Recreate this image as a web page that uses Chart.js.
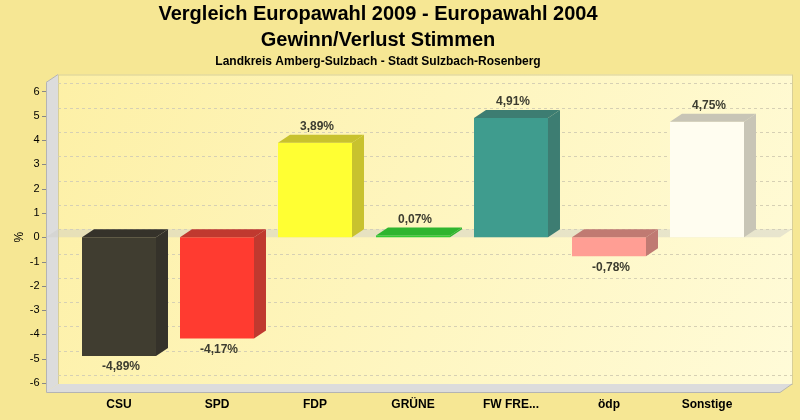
<!DOCTYPE html>
<html>
<head>
<meta charset="utf-8">
<script src="https://cdn.jsdelivr.net/npm/chart.js@4.4.1/dist/chart.umd.min.js"></script>
<style>
  html, body { margin: 0; padding: 0; background: #f6e794; }
  #wrap { width: 800px; height: 420px; }
</style>
</head>
<body>
<div id="wrap"><canvas id="chart" width="800" height="420"></canvas></div>
<script>
const parties = ["CSU", "SPD", "FDP", "GRÜNE", "FW FRE...", "ödp", "Sonstige"];
const changes = [-4.89, -4.17, 3.89, 0.07, 4.91, -0.78, 4.75];
const frontColors = ["#403d30", "#ff3b30", "#ffff33", "#33cc33", "#3f9c8e", "#ff9e94", "#fffdf0"];
const sideColors = ["#35322a", "#c0392f", "#c8c22e", "#2fb52f", "#3d7d72", "#c07a72", "#c8c5b6"];
const yTicks = [-6, -5, -4, -3, -2, -1, 0, 1, 2, 3, 4, 5, 6];

const DX = 12;   // depth offset x
const DY = -8;   // depth offset y
const SIDE = 24; // extra floor width outside category band

function fmt(v) {
  return v.toFixed(2).replace(".", ",") + "%";
}

/* =========================
   3D WALLS + GRID
========================= */

const walls = {
  id: "walls",
  beforeDatasetsDraw(chart) {
    const ctx = chart.ctx;
    const y = chart.scales.y;
    const a = chart.chartArea;
    const L = a.left - SIDE, R = a.right + SIDE, T = a.top, B = a.bottom;
    ctx.save();

    // back wall
    const g = ctx.createLinearGradient(L + DX, T + DY, R + DX, B + DY);
    g.addColorStop(0, "#fdf0a6");
    g.addColorStop(1, "#fffbd8");
    ctx.fillStyle = g;
    ctx.fillRect(L + DX, T + DY, R - L, B - T);
    ctx.strokeStyle = "#d8cf98";
    ctx.lineWidth = 1;
    ctx.strokeRect(L + DX + 0.5, T + DY + 0.5, R - L, B - T);

    // dashed grid on back wall
    ctx.setLineDash([3, 3]);
    ctx.strokeStyle = "#d6d0b4";
    yTicks.forEach((v) => {
      const py = Math.round(y.getPixelForValue(v) + DY) + 0.5;
      ctx.beginPath();
      ctx.moveTo(L + DX, py);
      ctx.lineTo(R + DX, py);
      ctx.stroke();
    });
    ctx.setLineDash([]);

    // left wall
    ctx.fillStyle = "#dcdcdc";
    ctx.beginPath();
    ctx.moveTo(L, T);
    ctx.lineTo(L + DX, T + DY);
    ctx.lineTo(L + DX, B + DY);
    ctx.lineTo(L, B);
    ctx.closePath();
    ctx.fill();

    // floor
    ctx.beginPath();
    ctx.moveTo(L, B);
    ctx.lineTo(L + DX, B + DY);
    ctx.lineTo(R + DX, B + DY);
    ctx.lineTo(R, B);
    ctx.closePath();
    ctx.fill();

    ctx.strokeStyle = "#b4b4b4";
    ctx.beginPath();
    ctx.moveTo(L + 0.5, T);
    ctx.lineTo(L + 0.5, B + 0.5);
    ctx.lineTo(R, B + 0.5);
    ctx.lineTo(R + DX, B + DY);
    ctx.stroke();
    ctx.beginPath();
    ctx.moveTo(L, T);
    ctx.lineTo(L + DX, T + DY);
    ctx.stroke();

    // zero plane
    const z = y.getPixelForValue(0);
    ctx.fillStyle = "rgba(205, 205, 200, 0.45)";
    ctx.beginPath();
    ctx.moveTo(L, z);
    ctx.lineTo(L + DX, z + DY);
    ctx.lineTo(R + DX, z + DY);
    ctx.lineTo(R, z);
    ctx.closePath();
    ctx.fill();

    // tick marks on front axis
    ctx.strokeStyle = "#888888";
    yTicks.forEach((v) => {
      const py = Math.round(y.getPixelForValue(v)) + 0.5;
      ctx.beginPath();
      ctx.moveTo(L - 4, py);
      ctx.lineTo(L, py);
      ctx.stroke();
    });
    ctx.restore();
  },

  /* =========================
     BAR DEPTH + LABELS
  ========================= */

  afterDatasetsDraw(chart) {
    const ctx = chart.ctx;
    const meta = chart.getDatasetMeta(0);
    ctx.save();
    meta.data.forEach((bar, i) => {
      const p = bar.getProps(["x", "y", "base", "width"], true);
      const x0 = p.x - p.width / 2, x1 = p.x + p.width / 2;
      const top = Math.min(p.y, p.base), bot = Math.max(p.y, p.base);
      ctx.fillStyle = sideColors[i];
      // top face
      ctx.beginPath();
      ctx.moveTo(x0, top);
      ctx.lineTo(x0 + DX, top + DY);
      ctx.lineTo(x1 + DX, top + DY);
      ctx.lineTo(x1, top);
      ctx.closePath();
      ctx.fill();
      // side face
      ctx.beginPath();
      ctx.moveTo(x1, top);
      ctx.lineTo(x1 + DX, top + DY);
      ctx.lineTo(x1 + DX, bot + DY);
      ctx.lineTo(x1, bot);
      ctx.closePath();
      ctx.fill();

      // value label
      const v = changes[i];
      ctx.fillStyle = "#3c3c30";
      ctx.font = "bold 12px 'Liberation Sans', Arial, sans-serif";
      ctx.textAlign = "center";
      ctx.textBaseline = "middle";
      if (v >= 0) ctx.fillText(fmt(v), p.x + 2, p.y - 16);
      else ctx.fillText(fmt(v), p.x + 2, p.y + 11);
    });
    ctx.restore();
  },
};

/* =========================
   CHART
========================= */

new Chart(document.getElementById("chart"), {
  type: "bar",
  data: {
    labels: parties,
    datasets: [
      {
        data: changes,
        backgroundColor: frontColors,
        borderWidth: 0,
        barPercentage: 0.755,
        categoryPercentage: 1,
      },
    ],
  },
  options: {
    responsive: false,
    animation: false,
    layout: { padding: { left: 0, right: 44, top: 0, bottom: 0 } },
    plugins: {
      legend: { display: false },
      tooltip: { enabled: false },
      title: {
        display: true,
        text: ["Vergleich Europawahl 2009 - Europawahl 2004", "Gewinn/Verlust Stimmen"],
        color: "#000000",
        font: { family: "'Liberation Sans', Arial, sans-serif", size: 20, weight: "bold", lineHeight: 1.3 },
        padding: { top: 1.5, bottom: 0 },
      },
      subtitle: {
        display: true,
        text: "Landkreis Amberg-Sulzbach - Stadt Sulzbach-Rosenberg",
        color: "#000000",
        font: { family: "'Liberation Sans', Arial, sans-serif", size: 12, weight: "bold", lineHeight: 1.2 },
        padding: { top: 0.5, bottom: 14.1 },
      },
    },
    scales: {
      x: {
        grid: { display: false, drawTicks: false },
        border: { display: false },
        ticks: {
          color: "#000000",
          padding: 5,
          maxRotation: 0,
          autoSkip: false,
          font: { family: "'Liberation Sans', Arial, sans-serif", size: 12, weight: "bold" },
        },
        afterFit(scale) {
          scale.height = 28;
        },
      },
      y: {
        min: -6.37,
        max: 6.37,
        grid: { display: false, drawTicks: false },
        border: { display: false },
        afterBuildTicks(scale) {
          scale.ticks = yTicks.map((v) => ({ value: v }));
        },
        ticks: {
          color: "#000000",
          padding: 30.5,
          font: { family: "'Liberation Sans', Arial, sans-serif", size: 11 },
        },
        title: {
          display: true,
          text: "%",
          color: "#000000",
          padding: { top: 12, bottom: 0 },
          font: { family: "'Liberation Sans', Arial, sans-serif", size: 12 },
        },
        afterFit(scale) {
          scale.width = 70;
          scale.paddingTop = 0;
          scale.paddingBottom = 0;
        },
      },
    },
  },
  plugins: [walls],
});
</script>
</body>
</html>
